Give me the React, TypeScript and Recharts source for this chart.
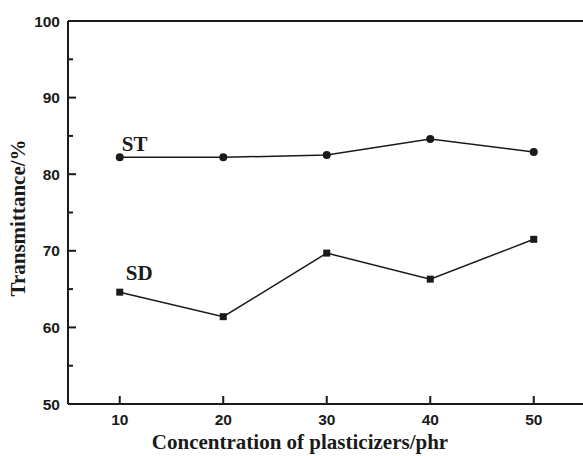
import { LineChart, Line, XAxis, YAxis, LabelList, ReferenceLine } from 'recharts';

const concentrations = [10, 20, 30, 40, 50];
const stValues = [82.2, 82.2, 82.5, 84.6, 82.9];
const sdValues = [64.6, 61.4, 69.7, 66.3, 71.5];
const xTicks = [10, 20, 30, 40, 50];
const yTicks = [50, 55, 60, 65, 70, 75, 80, 85, 90, 95, 100];

const data = concentrations.map((c, i) => ({ c, st: stValues[i], sd: sdValues[i] }));

const ink = '#1a1a1a';
const tickFont = '"Liberation Sans", Arial, sans-serif';
const titleFont = '"Liberation Serif", "Times New Roman", serif';

// ticks point into the plot, minor y ticks are shorter and unlabeled
const YTick = (props: any) => {
  const { x, y, payload } = props;
  const major = payload.value % 10 === 0;
  return (
    <g>
      <rect x={x} y={y - 1} width={major ? 8 : 5} height={2} fill={ink} />
      {major && (
        <text x={x - 8} y={y + 5.5} textAnchor='end' fontFamily={tickFont} fontWeight='bold' fontSize={15.5} fill={ink}>
          {payload.value}
        </text>
      )}
    </g>
  );
};

const XTick = (props: any) => {
  const { x, y, payload } = props;
  return (
    <g>
      <rect x={x - 1} y={y - 8} width={2} height={8} fill={ink} />
      <text x={x} y={y + 21} textAnchor='middle' fontFamily={tickFont} fontWeight='bold' fontSize={15.5} fill={ink}>
        {payload.value}
      </text>
    </g>
  );
};

const Square = (props: any) => {
  const { cx, cy } = props;
  return <rect x={cx - 3.5} y={cy - 3.5} width={7} height={7} fill={ink} />;
};

const seriesLabel = (name: string, dx: number, dy: number) => (props: any) => {
  const { x, y, index } = props;
  if (index !== 0) return null;
  return (
    <text x={x + dx} y={y + dy} fontFamily={titleFont} fontWeight='bold' fontSize={21} fill={ink}>
      {name}
    </text>
  );
};

export default function App() {
  return (
    <div style={{ position: 'absolute', left: 0, top: 0, width: 583, height: 456, overflow: 'hidden', background: '#fff' }}>
      <LineChart width={600} height={456} data={data} margin={{ top: 21, right: 14.5, left: 8, bottom: 12 }}>
        <XAxis
          dataKey='c'
          type='number'
          domain={[5, 55]}
          ticks={xTicks}
          height={40}
          tickSize={0}
          tickMargin={0}
          tickLine={false}
          axisLine={{ stroke: ink, strokeWidth: 2 }}
          tick={XTick}
          label={{
            content: () => (
              <text x={300} y={449} textAnchor='middle' fontFamily={titleFont} fontWeight='bold' fontSize={21} fill={ink}>
                Concentration of plasticizers/phr
              </text>
            ),
          }}
        />
        <YAxis
          type='number'
          domain={[50, 100]}
          ticks={yTicks}
          width={60}
          tickSize={0}
          tickMargin={0}
          tickLine={false}
          axisLine={{ stroke: ink, strokeWidth: 2 }}
          tick={YTick}
          interval={0}
          label={{
            content: () => (
              <text
                x={25}
                y={218}
                textAnchor='middle'
                transform='rotate(-90, 25, 218)'
                fontFamily={titleFont}
                fontWeight='bold'
                fontSize={21}
                fill={ink}
              >
                Transmittance/%
              </text>
            ),
          }}
        />
        <ReferenceLine y={100} stroke={ink} strokeWidth={2} />
        <ReferenceLine x={55} stroke={ink} strokeWidth={2} />
        <Line
          dataKey='st'
          stroke={ink}
          strokeWidth={1.5}
          dot={{ r: 4, fill: ink, stroke: 'none' }}
          isAnimationActive={false}
        >
          <LabelList dataKey='st' content={seriesLabel('ST', 2, -6)} />
        </Line>
        <Line dataKey='sd' stroke={ink} strokeWidth={1.5} dot={<Square />} isAnimationActive={false}>
          <LabelList dataKey='sd' content={seriesLabel('SD', 6, -12)} />
        </Line>
      </LineChart>
    </div>
  );
}
